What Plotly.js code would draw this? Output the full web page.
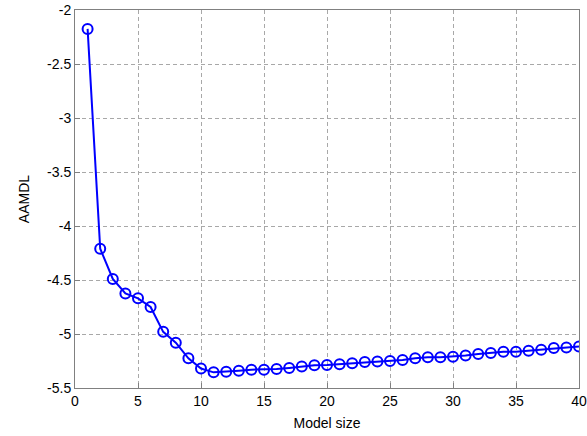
<!DOCTYPE html>
<html><head><meta charset="utf-8">
<script src="https://cdn.plot.ly/plotly-3.0.1.min.js"></script>
<style>html,body{margin:0;padding:0;background:#fff}#chart{width:587px;height:436px}</style>
</head><body><div id="chart"></div>
<script>
const modelSize = [1,2,3,4,5,6,7,8,9,10,11,12,13,14,15,16,17,18,19,20,21,22,23,24,25,26,27,28,29,30,31,32,33,34,35,36,37,38,39,40];
const aamdl = [-2.175,-4.21,-4.49,-4.625,-4.67,-4.75,-4.98,-5.08,-5.225,-5.32,-5.355,-5.35,-5.34,-5.33,-5.33,-5.325,-5.315,-5.30,-5.29,-5.287,-5.28,-5.27,-5.26,-5.255,-5.25,-5.24,-5.225,-5.215,-5.215,-5.21,-5.20,-5.185,-5.175,-5.165,-5.165,-5.155,-5.145,-5.13,-5.125,-5.115];
const xTicks = [0,5,10,15,20,25,30,35,40];
const yTicks = [-5.5,-5,-4.5,-4,-3.5,-3,-2.5,-2];
const xLabel = 'Model size';
const yLabel = 'AAMDL';

const axisCommon = {
  showgrid: true, gridcolor: '#a8a8a8', griddash: '4px,3px', gridwidth: 1,
  showline: true, linecolor: '#808080', linewidth: 1, mirror: true,
  ticks: 'inside', ticklen: 5, tickcolor: '#808080',
  zeroline: false,
  tickfont: {family: 'Liberation Sans, Arial, sans-serif', size: 14, color: '#000'}
};

Plotly.newPlot('chart', [{
  x: modelSize, y: aamdl, type: 'scatter', mode: 'lines+markers',
  line: {color: '#0000ff', width: 2},
  marker: {symbol: 'circle-open', size: 10, color: '#0000ff', line: {width: 2}}
}], {
  width: 587, height: 436,
  margin: {l: 75, r: 8, t: 10, b: 48},
  paper_bgcolor: '#fff', plot_bgcolor: '#fff',
  showlegend: false,
  font: {family: 'Liberation Sans, Arial, sans-serif', size: 14, color: '#000'},
  xaxis: Object.assign({}, axisCommon, {
    range: [0, 40], tickvals: xTicks, ticktext: xTicks.map(String),
    title: {text: xLabel, standoff: 10, font: {size: 14}}
  }),
  yaxis: Object.assign({}, axisCommon, {
    range: [-5.5, -2], tickvals: yTicks, ticktext: yTicks.map(String),
    title: {text: yLabel, standoff: 14, font: {size: 14}}
  })
}, {displayModeBar: false, staticPlot: true});
</script></body></html>
